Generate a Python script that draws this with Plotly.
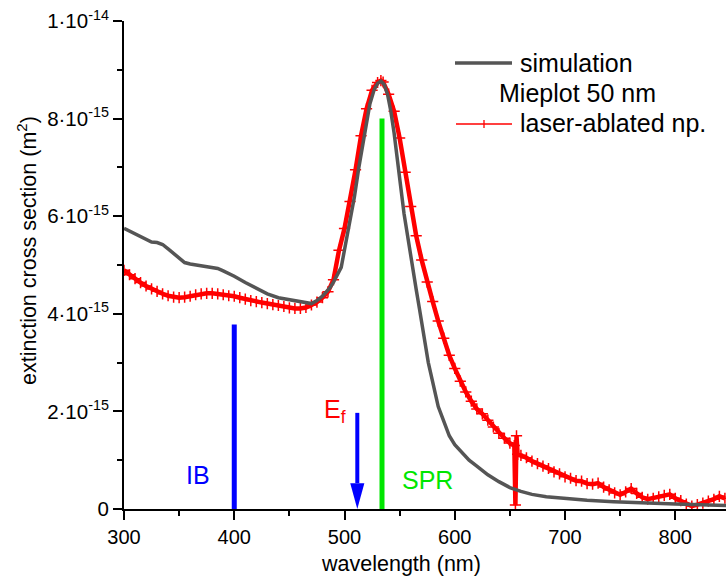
import plotly.graph_objects as go

# ---------------- data (extinction values in units of 1e-15 m^2) ----------------
SCALE = 1e-15

WL_SIM = [300, 310, 320, 325, 330, 335, 340, 350, 355, 360, 370, 380, 385, 390,
          400, 410, 420, 430, 440, 450, 460, 470, 475, 480, 487, 490, 497, 500,
          505, 509, 513, 517, 520, 523, 527, 530, 533, 536, 539, 542, 545, 548,
          551, 554, 557, 561, 565, 568, 572, 576, 580, 585, 590, 595, 600, 607,
          613, 620, 630, 640, 650, 660, 670, 683, 700, 720, 744, 770, 800, 846]
EXT_SIM = [5.75, 5.64, 5.52, 5.47, 5.46, 5.42, 5.33, 5.15, 5.05, 5.02, 4.99, 4.96, 4.93, 4.88,
           4.77, 4.64, 4.53, 4.41, 4.33, 4.29, 4.26, 4.21, 4.27, 4.36, 4.54, 4.65, 4.95, 5.30,
           5.85, 6.40, 7.00, 7.50, 7.90, 8.30, 8.60, 8.72, 8.77, 8.70, 8.50, 8.15, 7.70, 7.20,
           6.60, 6.05, 5.60, 5.05, 4.50, 4.10, 3.50, 3.00, 2.60, 2.10, 1.80, 1.50, 1.32, 1.14,
           1.00, 0.88, 0.70, 0.56, 0.44, 0.36, 0.30, 0.25, 0.21, 0.18, 0.15, 0.12, 0.10, 0.07]

WL_NP = [300, 305, 310, 315, 320, 325, 330, 335, 340, 345, 350, 355, 360, 365, 370,
         375, 380, 385, 390, 395, 400, 405, 410, 415, 420, 425, 430, 435, 440, 445,
         450, 455, 460, 465, 470, 475, 480, 485, 490, 495, 500, 505, 510, 515, 520,
         525, 530, 533, 535, 540, 545, 550, 555, 560, 565, 570, 575, 580, 585, 590,
         595, 600, 605, 610, 615, 620, 625, 630, 635, 640, 645, 650, 654, 655, 656,
         657, 660, 665, 670, 675, 680, 685, 690, 695, 700, 705, 710, 715, 720, 725,
         730, 735, 740, 745, 750, 755, 760, 765, 770, 775, 780, 785, 790, 795, 800,
         805, 810, 815, 820, 825, 830, 835, 840, 845]
EXT_NP = [4.89, 4.80, 4.72, 4.64, 4.57, 4.51, 4.46, 4.41, 4.37, 4.34, 4.33, 4.34, 4.36, 4.39, 4.41,
          4.42, 4.42, 4.41, 4.39, 4.37, 4.36, 4.33, 4.30, 4.27, 4.25, 4.23, 4.21, 4.19, 4.17, 4.15,
          4.12, 4.11, 4.11, 4.13, 4.18, 4.24, 4.33, 4.45, 4.70, 5.30, 5.75, 6.30, 6.95, 7.65, 8.20,
          8.58, 8.74, 8.78, 8.75, 8.50, 8.15, 7.60, 6.90, 6.20, 5.60, 5.10, 4.65, 4.25, 3.85, 3.50,
          3.15, 2.88, 2.62, 2.40, 2.21, 2.05, 1.95, 1.82, 1.68, 1.55, 1.45, 1.35, 1.30, 0.08, 1.50,
          1.12, 1.10, 1.05, 0.98, 0.93, 0.88, 0.83, 0.76, 0.72, 0.66, 0.63, 0.58, 0.57, 0.52, 0.51,
          0.53, 0.45, 0.39, 0.33, 0.29, 0.35, 0.42, 0.32, 0.24, 0.20, 0.22, 0.25, 0.28, 0.30, 0.22,
          0.17, 0.10, 0.06, 0.09, 0.12, 0.16, 0.20, 0.26, 0.22]

# marker lines / labels (wavelength nm, height in 1e-15 m^2)
IB_X, IB_TOP = 400, 3.78
SPR_X, SPR_TOP = 534, 8.0
EF_X, EF_TOP = 511.6, 1.97

X_TICKS = [300, 400, 500, 600, 700, 800]
Y_TICKS = [0, 2, 4, 6, 8, 10]
Y_TICKTEXT = ["0", "2·10<sup>-15</sup>", "4·10<sup>-15</sup>", "6·10<sup>-15</sup>",
              "8·10<sup>-15</sup>", "1·10<sup>-14</sup>"]

FONT = "Liberation Sans, Arial, sans-serif"
BLUE, RED, GREEN, GRAY = "#0000ff", "#ff0000", "#00e600", "#555555"

fig = go.Figure()
fig.add_trace(go.Scatter(
    x=WL_NP, y=[v * SCALE for v in EXT_NP], mode="lines+markers",
    line=dict(color=RED, width=4.5),
    marker=dict(symbol="cross-thin", size=8, color=RED, line=dict(color=RED, width=1.5)),
    showlegend=False))
fig.add_trace(go.Scatter(
    x=WL_SIM, y=[v * SCALE for v in EXT_SIM], mode="lines",
    line=dict(color=GRAY, width=3.5), showlegend=False))

shapes = []
shapes.append(dict(type="line", xref="x", yref="y", x0=IB_X, x1=IB_X, y0=0, y1=IB_TOP * SCALE,
                   line=dict(color=BLUE, width=5)))
shapes.append(dict(type="line", xref="x", yref="y", x0=SPR_X, x1=SPR_X, y0=0, y1=SPR_TOP * SCALE,
                   line=dict(color=GREEN, width=5)))
head_h = 0.53 * SCALE
head_w = 6.4
shapes.append(dict(type="line", xref="x", yref="y", x0=EF_X, x1=EF_X, y0=head_h,
                   y1=EF_TOP * SCALE, line=dict(color=BLUE, width=4)))
shapes.append(dict(type="path", xref="x", yref="y",
                   path=f"M {EF_X - head_w} {head_h} L {EF_X + head_w} {head_h} L {EF_X} 0 Z",
                   fillcolor=BLUE, line=dict(color=BLUE, width=0)))

# page pixel -> paper coordinates (plot area spans x 124..726, y 21..509)
def px(xp):
    return (xp - 124) / 602
def py(yp):
    return (509 - yp) / 488

shapes.append(dict(type="line", xref="paper", yref="paper", x0=px(455), x1=px(512),
                   y0=py(63), y1=py(63), line=dict(color=GRAY, width=3.5)))
shapes.append(dict(type="line", xref="paper", yref="paper", x0=px(456), x1=px(512),
                   y0=py(124), y1=py(124), line=dict(color=RED, width=1.3)))
shapes.append(dict(type="line", xref="paper", yref="paper", x0=px(484), x1=px(484),
                   y0=py(120), y1=py(128), line=dict(color=RED, width=1.3)))

annotations = [
    dict(xref="paper", yref="paper", x=px(518), y=py(63), text="simulation",
         showarrow=False, xanchor="left", yanchor="middle", font=dict(size=25, color="black")),
    dict(xref="paper", yref="paper", x=px(497), y=py(93), text="Mieplot 50 nm",
         showarrow=False, xanchor="left", yanchor="middle", font=dict(size=25, color="black")),
    dict(xref="paper", yref="paper", x=px(518), y=py(123), text="laser-ablated np.",
         showarrow=False, xanchor="left", yanchor="middle", font=dict(size=25, color="black")),
    dict(xref="x", yref="y", x=366.8, y=0.70 * SCALE, text="IB", showarrow=False,
         xanchor="center", yanchor="middle", font=dict(size=25, color=BLUE)),
    dict(xref="x", yref="y", x=575.2, y=0.60 * SCALE, text="SPR", showarrow=False,
         xanchor="center", yanchor="middle", font=dict(size=25, color=GREEN)),
    dict(xref="x", yref="y", x=480.0, y=2.0 * SCALE, text="E<sub>f</sub>", showarrow=False,
         xanchor="left", yanchor="middle", font=dict(size=25, color=RED)),
    dict(xref="paper", yref="paper", x=px(401), y=py(564), text="wavelength (nm)",
         showarrow=False, xanchor="center", yanchor="middle", font=dict(size=21.5, color="black")),
    dict(xref="paper", yref="paper", x=px(27), y=py(251), text="extinction cross section (m<sup>2</sup>)",
         showarrow=False, textangle=-90, xanchor="center", yanchor="middle",
         font=dict(size=21.5, color="black")),
]

fig.update_layout(
    width=726, height=578, autosize=False,
    margin=dict(l=124, r=0, t=21, b=69, autoexpand=False),
    paper_bgcolor="white", plot_bgcolor="white",
    font=dict(family=FONT, color="black"),
    shapes=shapes, annotations=annotations, showlegend=False,
)
fig.update_xaxes(
    range=[300, 846], tickmode="array", tickvals=X_TICKS, ticktext=[str(v) for v in X_TICKS],
    ticks="outside", ticklen=9, tickwidth=2, tickcolor="black",
    showline=True, linewidth=2, linecolor="black", showgrid=False, zeroline=False,
    tickfont=dict(size=20, color="black"), automargin=False,
    minor=dict(tickmode="array", tickvals=[350, 450, 550, 650, 750],
               ticks="outside", ticklen=5, tickwidth=2, tickcolor="black", showgrid=False),
)
fig.update_yaxes(
    range=[0, 10 * SCALE], tickmode="array", tickvals=[v * SCALE for v in Y_TICKS],
    ticktext=Y_TICKTEXT, automargin=False,
    ticks="outside", ticklen=9, tickwidth=2, tickcolor="black",
    showline=True, linewidth=2, linecolor="black", showgrid=False, zeroline=False,
    tickfont=dict(size=20.5, color="black"),
    minor=dict(tickmode="array", tickvals=[v * SCALE for v in [1, 3, 5, 7, 9]],
               ticks="outside", ticklen=5, tickwidth=2, tickcolor="black", showgrid=False),
)

# remove the default 8px page margin so the figure fills the 726x578 window exactly
fig.write_html("out.html",
               config={"displayModeBar": False},
               post_script="document.body.style.margin='0';"
                           "document.documentElement.style.overflow='hidden';")
